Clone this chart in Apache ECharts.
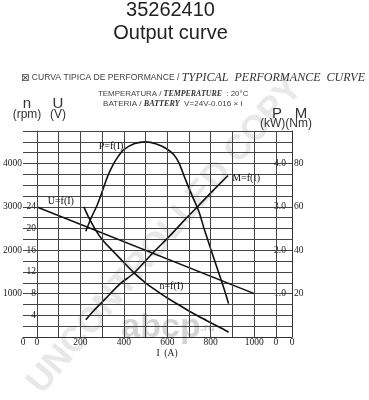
<!DOCTYPE html>
<html><head><meta charset="utf-8">
<script src="https://cdn.jsdelivr.net/npm/echarts@6/dist/echarts.min.js"></script>
<style>html,body{margin:0;padding:0;background:#fff}#c{width:369px;height:400px}</style>
</head><body><div id="c"></div>
<script>
// ---- data ----
const titleLine1 = '35262410';
const titleLine2 = 'Output curve';
// U = f(I)  (V)
const uI = [0, 1000];
const uV = [24, 8];
// P = f(I)  (kW)
const pI  = [225, 250, 278, 300, 325, 350, 375, 400, 450, 500, 550, 600, 630, 653, 683, 714, 745, 768, 800, 830, 860, 882];
const pKW = [2.44, 2.75, 3.05, 3.35, 3.70, 3.97, 4.17, 4.32, 4.46, 4.50, 4.45, 4.33, 4.20, 4.02, 3.64, 3.26, 2.90, 2.52, 2.03, 1.58, 1.13, 0.77];
// M = f(I)  (Nm)
const mI  = [225, 260, 309, 385, 447, 531, 615, 680, 745, 810, 880];
const mNm = [8, 12, 17, 24.7, 29.5, 38.5, 47, 54, 60.7, 67.5, 74.5];
// n = f(I)  (rpm)
const nI   = [216, 240, 271, 300, 350, 400, 447, 500, 550, 600, 650, 700, 750, 800, 850, 882];
const nRpm = [3000, 2740, 2460, 2250, 1980, 1720, 1480, 1250, 1070, 900, 750, 600, 460, 330, 200, 110];
// axes / ticks
const xMin = -64.2, xMax = 1174;
const xLabelValues = [xMin, 0, 200, 400, 600, 800, 1000, 1100, xMax];
const xGridLines = [0, 100, 200, 300, 400, 500, 600, 700, 800, 900, 1000, 1100];
const nTickLabels = [1000, 2000, 3000, 4000];
const uTickLabels = [4, 8, 12, 16, 20, 24];
const pTickLabels = [1, 2, 3, 4];
const mTickLabels = [20, 40, 60, 80];
// curve-name anchors (data units)
const uLabelAt = [110, 25];
const pLabelAt = [341, 4.4];
const nLabelAt = [619, 1160];

const zip = (a, b) => a.map((v, i) => [v, b[i]]);
const tickFont = { fontFamily: 'Liberation Serif', fontSize: 9.5, color: '#222' };
const curveStyle = { color: '#111', width: 1.6 };
const nameLabel = (txt) => ({ show: true, position: 'inside', formatter: txt, color: '#111', fontFamily: 'Liberation Serif', fontSize: 10 });

const chart = echarts.init(document.getElementById('c'), null, { renderer: 'canvas' });
chart.setOption({
  animation: false,
  backgroundColor: '#fff',
  grid: { left: 22, right: 77, top: 131, bottom: 63 },
  xAxis: [{
    type: 'value', min: xMin, max: xMax,
    axisLine: { show: true, lineStyle: { color: '#333', width: 1 } },
    axisTick: { show: false },
    splitLine: { show: false },
    axisLabel: Object.assign({
      customValues: xLabelValues, margin: 0,
      formatter: v => (v === xMin || v === xMax || v === 1100) ? '0' : String(v)
    }, tickFont)
  }],
  yAxis: [
    { type: 'value', position: 'left', min: 0, max: 4750, interval: 250,
      axisLine: { show: true, lineStyle: { color: '#333', width: 1 } },
      axisTick: { show: false },
      splitLine: { show: true, lineStyle: { color: '#444', width: 1 } },
      axisLabel: Object.assign({ margin: 1, formatter: v => nTickLabels.includes(v) ? String(v) : '' }, tickFont) },
    { type: 'value', position: 'left', offset: -14, min: 0, max: 38, interval: 4,
      axisLine: { show: false }, axisTick: { show: false }, splitLine: { show: false },
      axisLabel: Object.assign({ margin: 1, padding: [0, 0, 7, 0], formatter: v => uTickLabels.includes(v) ? String(v) : '' }, tickFont) },
    { type: 'value', position: 'right', offset: -16, min: 0, max: 4.75, interval: 1,
      axisLine: { show: false }, axisTick: { show: false }, splitLine: { show: false },
      axisLabel: Object.assign({ margin: -2, padding: [0, 0, 6, 0], formatter: v => pTickLabels.includes(v) ? v.toFixed(1) : '' }, tickFont) },
    { type: 'value', position: 'right', offset: 0, min: 0, max: 95, interval: 20,
      axisLine: { show: true, lineStyle: { color: '#333', width: 1 } },
      axisTick: { show: false }, splitLine: { show: false },
      axisLabel: Object.assign({ margin: 2, formatter: v => mTickLabels.includes(v) ? String(v) : '' }, tickFont) }
  ],
  graphic: [
    { type: 'text', x: 165, y: 236, rotation: 49.5 * Math.PI / 180, z: 0, silent: true,
      style: { text: 'UNCONTROLLED COPY', font: 'bold 35px "Liberation Sans"', fill: '#e8e8e8', align: 'center', verticalAlign: 'middle' } },
    { type: 'text', x: 168, y: 328, z: 0, silent: true,
      style: { text: '{a|abcp}{b|.ru}', rich: { a: { font: 'bold 34px "Liberation Sans"', fill: '#d4d4d4' }, b: { font: 'bold 11px "Liberation Sans"', fill: '#d4d4d4' } }, align: 'center', verticalAlign: 'middle' } },
    { type: 'text', x: 170.5, y: 10, style: { text: titleLine1, font: '20px "Liberation Sans"', fill: '#222', align: 'center', verticalAlign: 'middle' } },
    { type: 'text', x: 170.5, y: 33, style: { text: titleLine2, font: '20px "Liberation Sans"', fill: '#222', align: 'center', verticalAlign: 'middle' } },
    { type: 'text', x: 21, y: 78, style: {
        text: '{i|⊠}{a| CURVA TIPICA DE PERFORMANCE / }{b|TYPICAL  PERFORMANCE  CURVE}',
        rich: {
          i: { font: '10px "DejaVu Sans"', fill: '#444' },
          a: { font: '8.6px "Liberation Sans"', fill: '#444' },
          b: { font: 'italic 12px "Liberation Serif"', fill: '#333' }
        }, verticalAlign: 'middle', align: 'left' } },
    { type: 'text', x: 98, y: 94, style: {
        text: '{a|TEMPERATURA / }{b|TEMPERATURE}{a|  : 20°C}',
        rich: { a: { font: '7.9px "Liberation Sans"', fill: '#444' }, b: { font: 'italic bold 7.9px "Liberation Serif"', fill: '#333' } },
        verticalAlign: 'middle', align: 'left' } },
    { type: 'text', x: 103, y: 104, style: {
        text: '{a|BATERIA / }{b|BATTERY}{a|  V=24V-0.016 × I}',
        rich: { a: { font: '8.1px "Liberation Sans"', fill: '#444' }, b: { font: 'italic bold 8.1px "Liberation Serif"', fill: '#333' } },
        verticalAlign: 'middle', align: 'left' } },
    { type: 'text', x: 27, y: 104, style: { text: 'n', font: '15px "Liberation Sans"', fill: '#333', align: 'center', verticalAlign: 'middle' } },
    { type: 'text', x: 58, y: 104, style: { text: 'U', font: '15px "Liberation Sans"', fill: '#333', align: 'center', verticalAlign: 'middle' } },
    { type: 'text', x: 27, y: 115, style: { text: '(rpm)', font: '12px "Liberation Sans"', fill: '#333', align: 'center', verticalAlign: 'middle' } },
    { type: 'text', x: 58, y: 115, style: { text: '(V)', font: '12px "Liberation Sans"', fill: '#333', align: 'center', verticalAlign: 'middle' } },
    { type: 'text', x: 277, y: 114, style: { text: 'P', font: '15px "Liberation Sans"', fill: '#333', align: 'center', verticalAlign: 'middle' } },
    { type: 'text', x: 301, y: 114, style: { text: 'M', font: '15px "Liberation Sans"', fill: '#333', align: 'center', verticalAlign: 'middle' } },
    { type: 'text', x: 286, y: 124, style: { text: '(kW)(Nm)', font: '12px "Liberation Sans"', fill: '#333', align: 'center', verticalAlign: 'middle' } },
    { type: 'text', x: 167, y: 353, style: { text: 'I  (A)', font: '9.5px "Liberation Serif"', fill: '#222', align: 'center', verticalAlign: 'middle' } }
  ],
  series: [
    { name: 'U', type: 'line', xAxisIndex: 0, yAxisIndex: 1, data: zip(uI, uV), symbol: 'none',
      lineStyle: curveStyle, z: 3,
      markLine: { silent: true, symbol: ['none', 'none'], label: { show: false },
        lineStyle: { color: '#444', width: 1, type: 'solid' },
        emphasis: { disabled: true },
        data: xGridLines.map(v => ({ xAxis: v })) },
      markPoint: { silent: true, symbol: 'circle', symbolSize: 0, label: nameLabel('U=f(I)'), data: [{ coord: uLabelAt }] } },
    { name: 'P', type: 'line', xAxisIndex: 0, yAxisIndex: 2, data: zip(pI, pKW), symbol: 'none', smooth: 0.3,
      lineStyle: curveStyle, z: 4,
      markPoint: { silent: true, symbol: 'circle', symbolSize: 0, label: nameLabel('P=f(I)'), data: [{ coord: pLabelAt }] } },
    { name: 'M', type: 'line', xAxisIndex: 0, yAxisIndex: 3, data: zip(mI, mNm), symbol: 'none', smooth: 0.3,
      lineStyle: curveStyle, z: 4,
      endLabel: { show: true, formatter: 'M=f(I)', distance: 4, offset: [0, 3], color: '#111', fontFamily: 'Liberation Serif', fontSize: 10 } },
    { name: 'n', type: 'line', xAxisIndex: 0, yAxisIndex: 0, data: zip(nI, nRpm), symbol: 'none', smooth: 0.3,
      lineStyle: curveStyle, z: 4,
      markPoint: { silent: true, symbol: 'circle', symbolSize: 0, label: nameLabel('n=f(I)'), data: [{ coord: nLabelAt }] } }
  ]
});
</script>
</body></html>
